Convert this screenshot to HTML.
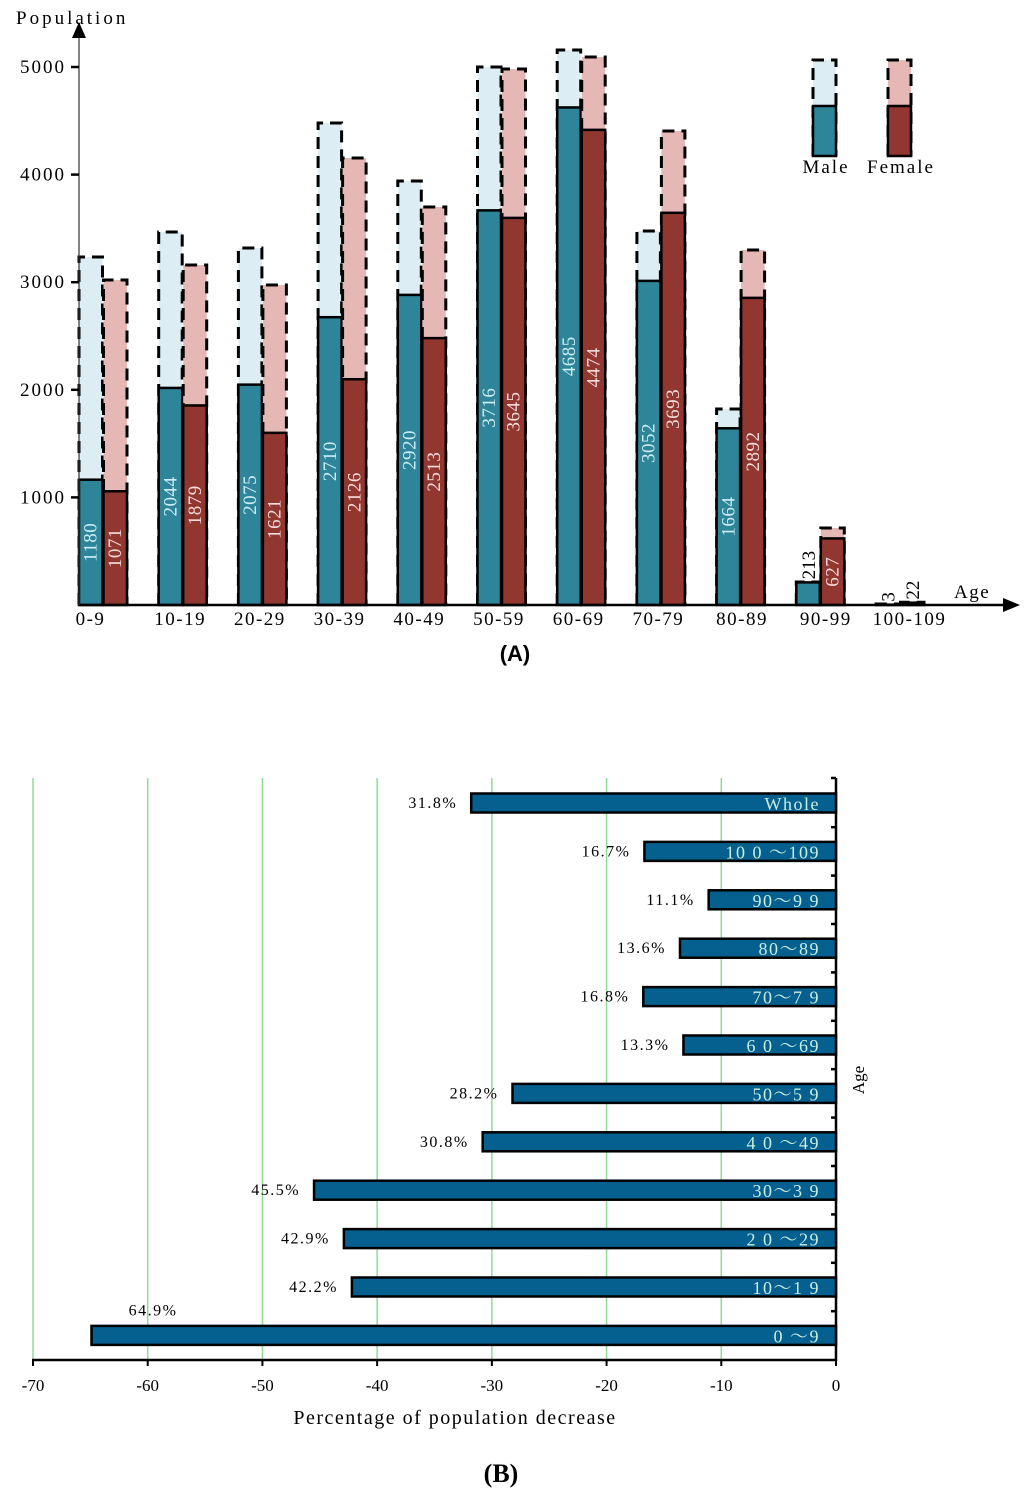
<!DOCTYPE html>
<html><head><meta charset="utf-8">
<style>
html,body{margin:0;padding:0;background:#fff;}
svg{display:block;font-family:"Liberation Serif","Noto Serif CJK SC",serif;}
</style></head>
<body>
<svg id="chart" width="1024" height="1494" viewBox="0 0 1024 1494" xmlns="http://www.w3.org/2000/svg">
<g id="chartA"></g>
<g id="chartB"></g>
</svg>
<script>
// ===== Chart A data =====
const ageGroups = ["0-9","10-19","20-29","30-39","40-49","50-59","60-69","70-79","80-89","90-99","100-109"];
const maleNow = [1180,2044,2075,2710,2920,3716,4685,3052,1664,213,3];
const femaleNow = [1071,1879,1621,2126,2513,3645,4474,3693,2892,627,22];
const malePrev = [3277,3512,3362,4539,3992,5066,5226,3522,1846,216,10];
const femalePrev = [3060,3202,3013,4209,3748,5047,5160,4463,3343,725,26];
const yTicksA = [1000,2000,3000,4000,5000];

// ===== Chart B data =====
const catsB = ["Whole","10 0 ～109","90～9 9","80～89","70～7 9","6 0 ～69","50～5 9","4 0 ～49","30～3 9","2 0 ～29","10～1 9","0 ～9"];
const decreaseB = [31.8,16.7,11.1,13.6,16.8,13.3,28.2,30.8,45.5,42.9,42.2,64.9];
const xTicksB = [-70,-60,-50,-40,-30,-20,-10,0];

const NS="http://www.w3.org/2000/svg";
function mk(parent,tag,attrs,text){const e=document.createElementNS(NS,tag);for(const k in attrs)e.setAttribute(k,attrs[k]);if(text!==undefined)e.textContent=text;parent.appendChild(e);return e;}

// ---- Chart A ----
const A=document.getElementById('chartA');
const base=605, x0=79, step=79.7, bw=23.5;
const yA=v=>base-v*0.1062;
const yTickA=v=>base-v*0.1076;
const bandX=i=>x0+i*step;
const mLight="#dcedf3", mDark="#2e8499", fLight="#e6b8b5", fDark="#923630";

function stackBar(x,now,prev,light,dark,txtCol,label,i,sex){
  const g=mk(A,'g',{});
  
  
  const yt=yA(prev), yn=yA(now);
  mk(g,'rect',{x:x,y:yt,width:bw,height:base-yt,fill:light});
  mk(g,'path',{d:`M${x},${base} L${x},${yt} L${x+bw},${yt} L${x+bw},${base}`,fill:'none',stroke:'#000','stroke-width':3,'stroke-dasharray':'12,7'});
  mk(g,'rect',{x:x,y:yn,width:bw,height:base-yn,fill:dark,stroke:'#000','stroke-width':2.5});
  const big=(base-yn)>45;
  if(big){
    const cx=x+bw/2+6, cy=(yn+base)/2;
    mk(g,'text',{x:cx,y:cy,fill:txtCol,'font-size':19,'letter-spacing':0.5,'text-anchor':'middle',transform:`rotate(-90 ${cx} ${cy})`},String(now));
  } else {
    const cx=x+bw/2+7, cy=yn-3;
    mk(g,'text',{x:cx,y:cy,fill:'#000','font-size':19,'text-anchor':'start',transform:`rotate(-90 ${cx} ${cy})`},String(now));
  }
}
ageGroups.forEach((lab,i)=>{
  const x=bandX(i);
  stackBar(x,maleNow[i],malePrev[i],mLight,mDark,"#cdeef5",lab,i,'male');
  stackBar(x+bw+1,femaleNow[i],femalePrev[i],fLight,fDark,"#f5dcdc",lab,i,'female');
  const t=mk(A,'text',{x:x+bw+1-3+ (i==0?-10:0)+ (i>=7?(i-7)*4:0),y:625,'font-size':19,'letter-spacing':1.5,'text-anchor':'middle',fill:'#000'},lab);
  
  
});
// axes
mk(A,'line',{x1:79,y1:605,x2:1008,y2:605,stroke:'#000','stroke-width':2.5});
mk(A,'path',{d:'M1020,605 L1003,598 L1003,612 Z',fill:'#000'});
mk(A,'line',{x1:79,y1:605,x2:79,y2:28,stroke:'#333','stroke-width':1.2});
mk(A,'path',{d:'M79,22 L72,38 L86,38 Z',fill:'#000'});
yTicksA.forEach(v=>{
  const y=yTickA(v);
  mk(A,'line',{x1:71,y1:y,x2:79,y2:y,stroke:'#000','stroke-width':2.5});
  const t=mk(A,'text',{x:66,y:y+6,'font-size':19,'letter-spacing':2,'text-anchor':'end',fill:'#000'},String(v));
  
  
});
let t=mk(A,'text',{x:16,y:24,'font-size':19,fill:'#000','letter-spacing':'3'},'Population');

t=mk(A,'text',{x:954,y:598,'font-size':19,fill:'#000','letter-spacing':'1.5'},'Age');

t=mk(A,'text',{x:515,y:661,'font-size':22,'font-weight':'bold','text-anchor':'middle',fill:'#000','font-family':'Liberation Sans, sans-serif'},'(A)');

// legend
function legend(x,light,dark,label,name){
  const g=mk(A,'g',{});
  
  mk(g,'rect',{x:x,y:60,width:23,height:96,fill:light});
  mk(g,'path',{d:`M${x},156 L${x},60 L${x+23},60 L${x+23},156`,fill:'none',stroke:'#000','stroke-width':3,'stroke-dasharray':'12,7'});
  mk(g,'rect',{x:x,y:106,width:23,height:50,fill:dark,stroke:'#000','stroke-width':2.5});
  mk(g,'text',{x:x+13,y:173,'font-size':19,'text-anchor':'middle',fill:'#000','letter-spacing':'2'},label);
}
legend(813,mLight,mDark,'Male','legend-male');
legend(888,fLight,fDark,'Female','legend-female');

// ---- Chart B ----
const B=document.getElementById('chartB');
const xB=v=>836+v*(803/70);
const rowY=i=>803+i*48.4;
xTicksB.forEach(v=>{
  const x=xB(v);
  if(v!==0){ const l=mk(B,'line',{x1:x,y1:778,x2:x,y2:1360,stroke:'#8fdc95','stroke-width':1.5});
    }
  mk(B,'line',{x1:x,y1:1360,x2:x,y2:1366,stroke:'#000','stroke-width':2});
  const tt=mk(B,'text',{x:x,y:1391,'font-size':17,'text-anchor':'middle',fill:'#000'},String(v));
  
});
mk(B,'line',{x1:32,y1:1360,x2:837,y2:1360,stroke:'#000','stroke-width':2.5});
mk(B,'line',{x1:836,y1:778,x2:836,y2:1361,stroke:'#000','stroke-width':2.5});
for(let i=0;i<=catsB.length-1;i++){
  const y=i===0?778:(rowY(i-1)+rowY(i))/2;
  mk(B,'line',{x1:831,y1:y,x2:836,y2:y,stroke:'#000','stroke-width':2.5});
}
catsB.forEach((c,i)=>{
  const cy=rowY(i), x=xB(-decreaseB[i]);
  const r=mk(B,'rect',{x:x,y:cy-9.5,width:836-x,height:19,fill:'#06608f',stroke:'#000','stroke-width':2.5});
  
  mk(B,'text',{x:820,y:cy+7,'font-size':18,'text-anchor':'end',fill:'#c8eee0','letter-spacing':'1.5'},c);
  const last=i===catsB.length-1;
  const vl=mk(B,'text',{x:last?x+86:x-14,y:last?cy-20:cy+5,'font-size':16,'letter-spacing':1.5,'text-anchor':'end',fill:'#000'},decreaseB[i].toFixed(1)+'%');
  
});
t=mk(B,'text',{x:864,y:1080,'font-size':17,'text-anchor':'middle',fill:'#000',transform:'rotate(-90 864 1080)'},'Age');

t=mk(B,'text',{x:455,y:1424,'font-size':20,'text-anchor':'middle',fill:'#000','letter-spacing':'1.5'},'Percentage of population decrease');

t=mk(B,'text',{x:501,y:1482,'font-size':26,'font-weight':'bold','text-anchor':'middle',fill:'#000'},'(B)');

</script>
</body></html>
